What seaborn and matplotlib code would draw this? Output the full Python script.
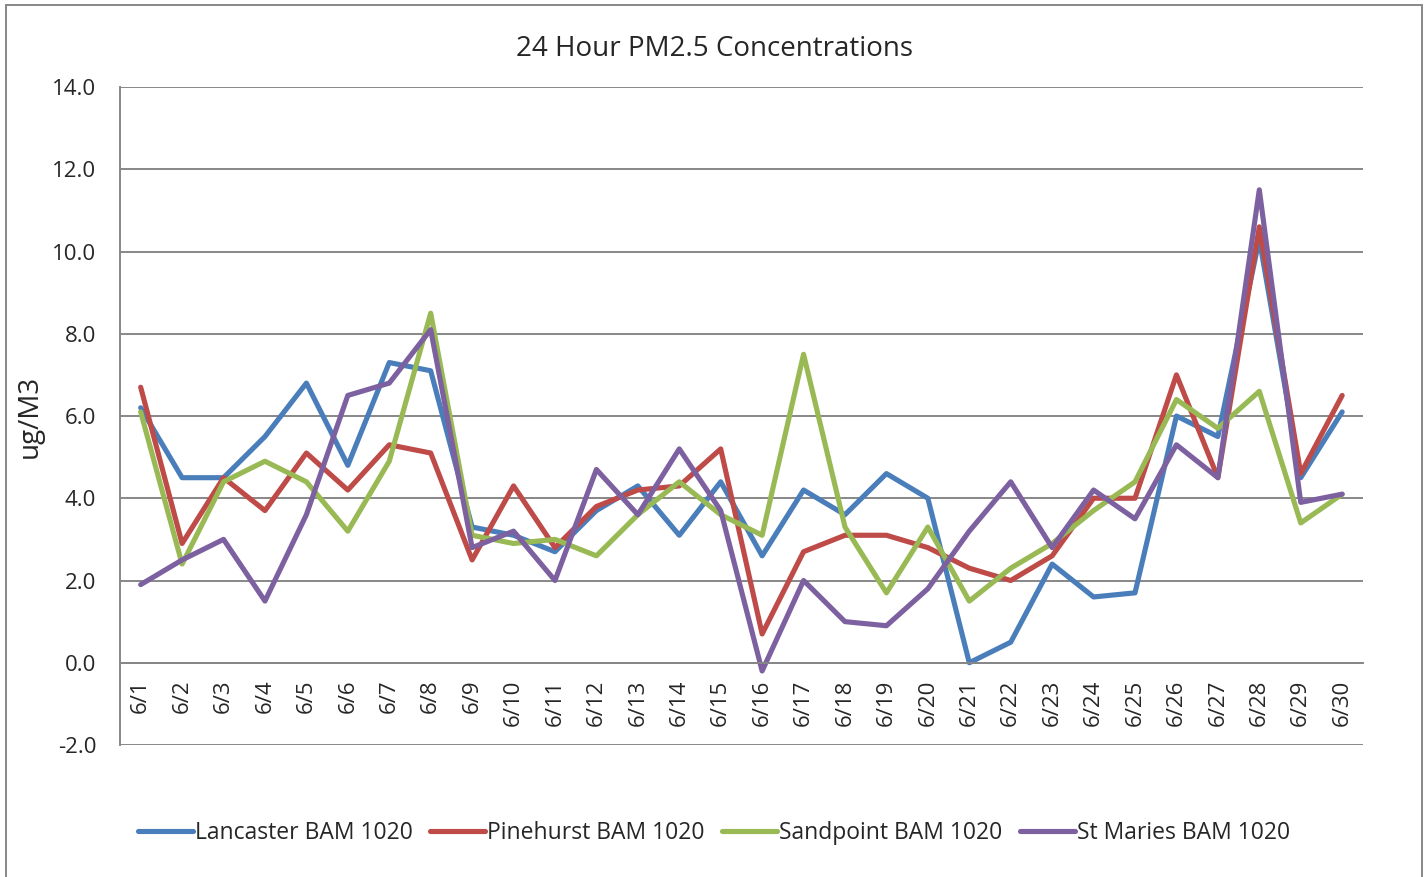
import pandas as pd
import matplotlib.pyplot as plt
import seaborn as sns
from matplotlib.patches import Rectangle

# Data
days = [f"6/{d}" for d in range(1, 31)]
lancaster = [6.2, 4.5, 4.5, 5.5, 6.8, 4.8, 7.3, 7.1, 3.3, 3.1, 2.7, 3.7, 4.3, 3.1, 4.4,
             2.6, 4.2, 3.6, 4.6, 4.0, 0.0, 0.5, 2.4, 1.6, 1.7, 6.0, 5.5, 10.3, 4.5, 6.1]
pinehurst = [6.7, 2.9, 4.5, 3.7, 5.1, 4.2, 5.3, 5.1, 2.5, 4.3, 2.8, 3.8, 4.2, 4.3, 5.2,
             0.7, 2.7, 3.1, 3.1, 2.8, 2.3, 2.0, 2.6, 4.0, 4.0, 7.0, 4.5, 10.6, 4.6, 6.5]
sandpoint = [6.1, 2.4, 4.4, 4.9, 4.4, 3.2, 4.9, 8.5, 3.1, 2.9, 3.0, 2.6, 3.6, 4.4, 3.6,
             3.1, 7.5, 3.3, 1.7, 3.3, 1.5, 2.3, 2.9, 3.7, 4.4, 6.4, 5.7, 6.6, 3.4, 4.1]
st_maries = [1.9, 2.5, 3.0, 1.5, 3.6, 6.5, 6.8, 8.1, 2.8, 3.2, 2.0, 4.7, 3.6, 5.2, 3.7,
             -0.2, 2.0, 1.0, 0.9, 1.8, 3.2, 4.4, 2.8, 4.2, 3.5, 5.3, 4.5, 11.5, 3.9, 4.1]
sites = ["Lancaster BAM 1020", "Pinehurst BAM 1020", "Sandpoint BAM 1020", "St Maries BAM 1020"]
colors = ["#4A7EBB", "#BE4B48", "#98B954", "#7D60A0"]

# Long-form table for seaborn
df = pd.concat([
    pd.DataFrame({"day": range(len(days)), "value": vals, "site": name})
    for name, vals in zip(sites, [lancaster, pinehurst, sandpoint, st_maries])
])

sns.set_style("white")
plt.rcParams['font.family'] = ['Open Sans', 'DejaVu Sans']

fig = plt.figure(figsize=(14.28, 8.77), dpi=100)
ax = fig.add_axes([0.084, 0.1505, 0.8704, 0.7503])

sns.lineplot(data=df, x="day", y="value", hue="site", palette=colors,
             linewidth=3.7, ax=ax, legend=False)

# Axes styling (move spine first: it resets the ticks)
ax.spines["bottom"].set_position(("data", 0))
for s in ["top", "right"]:
    ax.spines[s].set_visible(False)
for s in ["left", "bottom"]:
    ax.spines[s].set_color("#878787")
    ax.spines[s].set_linewidth(1.4)

ax.set_xlim(-0.5, len(days) - 0.5)
ax.set_ylim(-2, 14)
ax.set_yticks(range(-2, 15, 2))
ax.set_yticklabels([f"{v:.1f}" for v in range(-2, 15, 2)], fontsize=16)
ax.set_xticks(range(len(days)))
ax.set_xticklabels(days, rotation=90, fontsize=16)
ax.yaxis.grid(True, color="#878787", linewidth=1.4)
ax.set_axisbelow(True)
ax.tick_params(axis="y", length=0, pad=17)
ax.tick_params(axis="x", length=0, pad=12)
ax.set_xlabel("")
ax.set_ylabel("ug/M3", fontsize=20, labelpad=6)

fig.suptitle("24 Hour PM2.5 Concentrations", fontsize=20, y=0.96)

# Legend below the plot
handles = [plt.Line2D([0], [0], color=c, linewidth=3.7) for c in colors]
fig.legend(handles, sites, loc="center", bbox_to_anchor=(0.5, 0.05), ncol=4,
           frameon=False, fontsize=16.5, handlelength=2.4, handletextpad=0.1,
           columnspacing=0.75)

# Chart area border
fig.patches.append(Rectangle((0.0045, -0.05), 0.991, 1.044, transform=fig.transFigure,
                             fill=False, edgecolor="#878787", linewidth=1.4))

fig.savefig("out.png", dpi=100)
